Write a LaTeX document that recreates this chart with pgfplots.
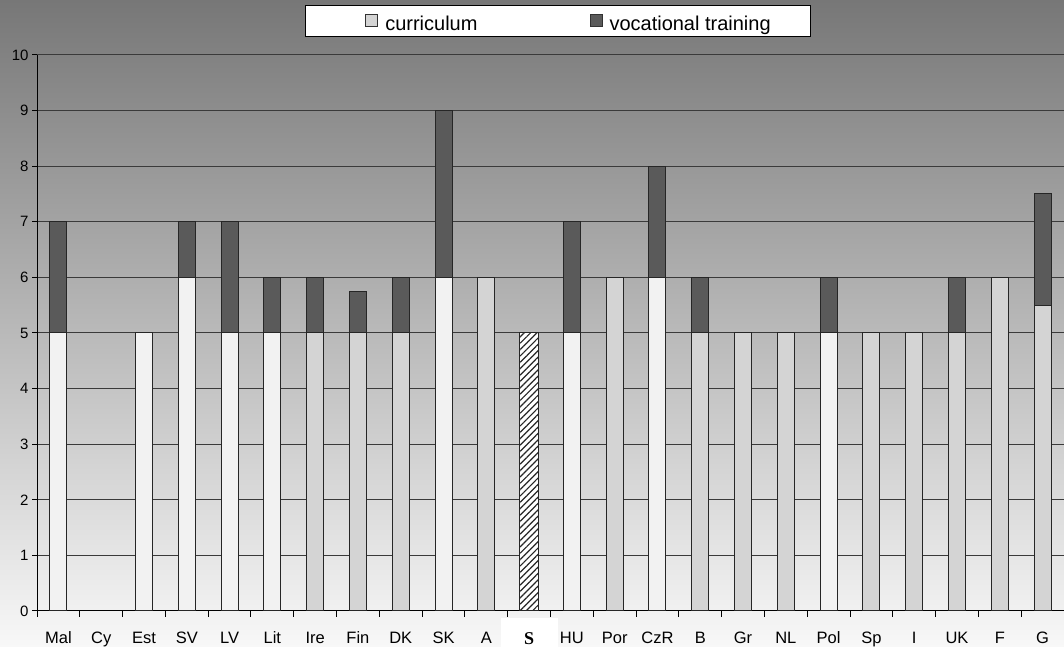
\documentclass[border=0pt]{standalone}
\usepackage{pgfplots}
\pgfplotsset{compat=1.18}
\usetikzlibrary{patterns.meta}
\usepackage{fontspec}
\setmainfont{Liberation Sans}
\newfontfamily\serifS{Liberation Serif}
\definecolor{lightbar}{HTML}{F2F2F2}
\definecolor{midbar}{HTML}{D4D4D4}
\definecolor{vocbar}{HTML}{5A5A5A}
\definecolor{gridc}{HTML}{3A3A3A}
\definecolor{bgtop}{HTML}{777777}
\definecolor{bgmid}{HTML}{D3D3D3}
\definecolor{bgbot}{HTML}{F8F8F8}
\pgfplotsset{
  sqlegendA/.style={legend image code/.code={\path (-22bp,0bp); \draw[##1] (0bp,-6bp) rectangle (12bp,6bp);}},
  sqlegendB/.style={legend image code/.code={\draw[##1] (0bp,-6bp) rectangle (12bp,6bp);}},
}
\begin{document}
\begin{tikzpicture}[x=1bp,y=1bp]
\shade[top color=bgtop, middle color=bgmid, bottom color=bgbot] (0,0) rectangle (1064,647);
\fill[white] (501,0) rectangle (558,29);
\begin{axis}[
  at={(37bp,36bp)}, anchor=south west, scale only axis,
  width=1027bp, height=556bp,
  xmin=-0.5, xmax=23.5, ymin=0, ymax=10,
  axis x line*=bottom, axis y line*=left,
  axis line style={black, line width=1bp},
  xtick={0,...,23},
  xticklabels={Mal,Cy,Est,SV,LV,Lit,Ire,Fin,DK,SK,A,{\raisebox{-1bp}[\height][0pt]{\serifS\bfseries\fontsize{18bp}{18bp}\selectfont S}},HU,Por,CzR,B,Gr,NL,Pol,Sp,I,UK,F,G},
  minor xtick={-0.5,0.5,...,23.5},
  ytick={0,...,9},
  extra y ticks={10},
  extra y tick style={grid style={draw=gray!45!white, line width=1bp}},
  ymajorgrids, major grid style={draw=gridc, line width=1bp},
  tick align=outside,
  major tick length=5bp, minor tick length=6bp,
  major x tick style={draw=none},
  tick style={black, line width=1bp},
  /pgf/number format/assume math mode=true,
  xticklabel style={font=\fontsize{16.5bp}{20bp}\selectfont, text height=12bp, text depth=3bp, yshift=-12bp},
  yticklabel style={font=\fontsize{15bp}{18bp}\selectfont},
  legend style={at={(0.5073,1.0899)}, anchor=north, draw=black, line width=1bp, fill=white,
    inner xsep=38bp, inner ysep=4bp,
    font=\fontsize{20bp}{24bp}\selectfont,
    nodes={inner sep=2bp, text height=19bp, text depth=0bp},
    /tikz/every odd column/.append style={column sep=5bp},
    /tikz/every even column/.append style={column sep=110bp}},
  legend columns=2,
  legend cell align=left,
]
\addlegendimage{sqlegendA, fill=midbar, draw=black!80, line width=1bp}
\addlegendentry{curriculum}
\addlegendimage{sqlegendB, fill=vocbar, draw=black!80, line width=1bp}
\addlegendentry{vocational training}
% vocational training: top of stacked bar (curriculum + vocational)
\addplot[ybar, bar width=17bp, bar shift=0pt, fill=vocbar, draw=black!85, line width=1bp, forget plot]
  coordinates {(0,7) (3,7) (4,7) (5,6) (6,6) (7,5.75) (8,6) (9,9) (12,7) (14,8) (15,6) (18,6) (21,6) (23,7.5)};
% curriculum, light bars
\addplot[ybar, bar width=17bp, bar shift=0pt, fill=lightbar, draw=black!85, line width=1bp, forget plot]
  coordinates {(0,5) (2,5) (3,6) (4,5) (5,5) (9,6) (12,5) (14,6) (18,5)};
% curriculum, grey bars
\addplot[ybar, bar width=17bp, bar shift=0pt, fill=midbar, draw=black!85, line width=1bp, forget plot]
  coordinates {(6,5) (7,5) (8,5) (10,6) (13,6) (15,5) (16,5) (17,5) (19,5) (20,5) (21,5) (22,6) (23,5.5)};
% S (hatched)
\addplot[ybar, bar width=19bp, bar shift=0pt, fill=white, draw=black!85, line width=1bp, postaction={pattern={Lines[angle=45, distance=4.5bp, line width=1.2bp]}, pattern color=black!85}, forget plot]
  coordinates {(11,5)};
\end{axis}
\pgfresetboundingbox
\path (0,0) rectangle (1064,647);
\end{tikzpicture}
\end{document}
